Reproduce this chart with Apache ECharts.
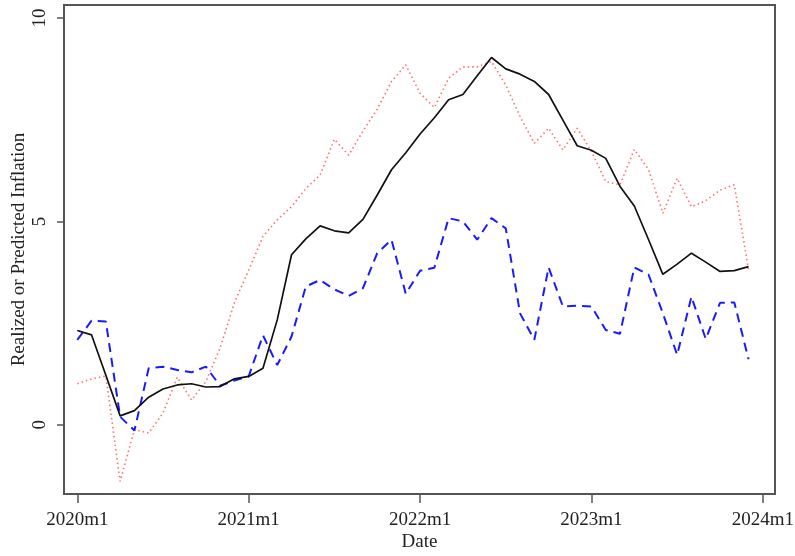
<!DOCTYPE html>
<html>
<head>
<meta charset="utf-8">
<script src="https://cdn.jsdelivr.net/npm/echarts@6/dist/echarts.min.js"></script>
<style>
html,body{margin:0;padding:0;background:#fff;}
#chart{width:795px;height:556px;}
</style>
</head>
<body>
<div id="chart"></div>
<script>
// Months since 2020m1 (0 = 2020m1 ... 47 = 2023m12)
const months = Array.from({length: 48}, (_, i) => i);

const realized = [2.32, 2.21, 1.22, 0.22, 0.35, 0.68, 0.88, 0.98, 1.01, 0.93, 0.94, 1.13,
  1.19, 1.39, 2.58, 4.18, 4.57, 4.89, 4.77, 4.72, 5.05, 5.65, 6.27, 6.69,
  7.15, 7.55, 7.99, 8.12, 8.58, 9.03, 8.75, 8.62, 8.44, 8.12, 7.49, 6.86,
  6.75, 6.55, 5.86, 5.38, 4.55, 3.70, 3.95, 4.22, 4.00, 3.77, 3.79, 3.89];

const predictedRed = [1.01, 1.13, 1.20, -1.39, -0.12, -0.20, 0.29, 1.17, 0.61, 1.06, 1.89, 3.00,
  3.80, 4.63, 5.04, 5.36, 5.81, 6.14, 7.02, 6.63, 7.22, 7.76, 8.44, 8.85,
  8.15, 7.80, 8.52, 8.80, 8.80, 8.93, 8.35, 7.58, 6.92, 7.29, 6.76, 7.29,
  6.72, 5.98, 5.90, 6.77, 6.27, 5.20, 6.06, 5.36, 5.51, 5.77, 5.90, 3.81];

const predictedBlue = [2.09, 2.56, 2.54, 0.20, -0.14, 1.39, 1.43, 1.35, 1.29, 1.43, 0.96, 1.09,
  1.19, 2.20, 1.47, 2.17, 3.40, 3.56, 3.33, 3.17, 3.36, 4.22, 4.55, 3.22,
  3.79, 3.86, 5.08, 5.00, 4.55, 5.08, 4.83, 2.74, 2.09, 3.87, 2.91, 2.93,
  2.91, 2.33, 2.24, 3.87, 3.69, 2.74, 1.72, 3.15, 2.11, 3.00, 3.01, 1.61];

const xTickValues = [0, 12, 24, 36, 48];
const xTickLabels = ['2020m1', '2021m1', '2022m1', '2023m1', '2024m1'];
const yTickValues = [0, 5, 10];

const pairs = vals => months.map((m, i) => [m, vals[i]]);
const font = 'Liberation Serif';

const chart = echarts.init(document.getElementById('chart'), null, {renderer: 'canvas'});
chart.setOption({
  animation: false,
  backgroundColor: '#ffffff',
  grid: {left: 64, right: 20, top: 5, bottom: 62, show: true, borderColor: '#555', borderWidth: 2,
    backgroundColor: 'transparent', containLabel: false, outerBoundsMode: 'none'},
  xAxis: {
    type: 'value', min: -0.93, max: 48.85,
    name: 'Date', nameLocation: 'middle', nameGap: 39, nameMoveOverlap: false,
    nameTextStyle: {fontFamily: font, fontSize: 19, color: '#222'},
    axisLine: {show: false, onZero: false},
    axisTick: {show: true, length: 9, customValues: xTickValues, lineStyle: {color: '#555', width: 1.5}},
    axisLabel: {customValues: xTickValues, fontFamily: font, fontSize: 19, color: '#222', margin: 17,
      formatter: v => xTickLabels[xTickValues.indexOf(v)] || ''},
    splitLine: {show: false}
  },
  yAxis: {
    type: 'value', min: -1.70, max: 10.32,
    name: 'Realized or Predicted Inflation', nameLocation: 'middle', nameGap: 35, nameMoveOverlap: false,
    nameTextStyle: {fontFamily: font, fontSize: 19, color: '#222'},
    axisLine: {show: false, onZero: false},
    axisTick: {show: true, length: 7, customValues: yTickValues, lineStyle: {color: '#555', width: 1.5}},
    axisLabel: {customValues: yTickValues, fontFamily: font, fontSize: 19, color: '#222', margin: 14, rotate: 90},
    splitLine: {show: false}
  },
  series: [
    {type: 'line', data: pairs(predictedRed), symbol: 'none', z: 1,
      lineStyle: {color: '#ff7070', width: 1.6, type: [1.5, 3]}},
    {type: 'line', data: pairs(predictedBlue), symbol: 'none', z: 2,
      lineStyle: {color: '#1a1aff', width: 2, type: [9, 6]}},
    {type: 'line', data: pairs(realized), symbol: 'none', z: 3,
      lineStyle: {color: '#111', width: 1.7}}
  ]
});
</script>
</body>
</html>
